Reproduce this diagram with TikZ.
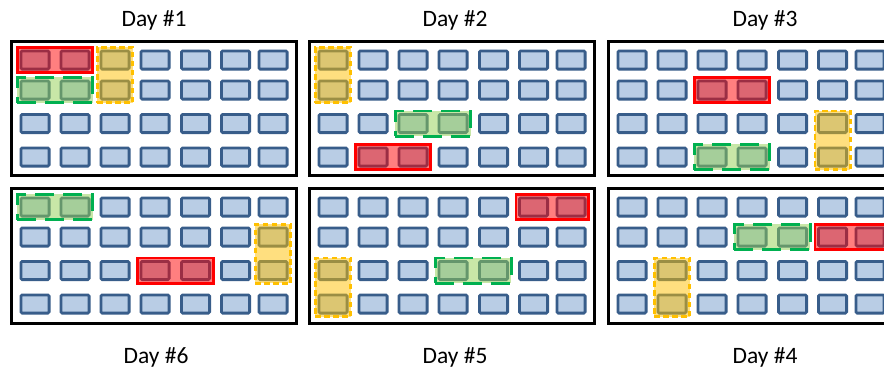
\documentclass[tikz,border=0pt]{standalone}
\usepackage{fontspec}
\setmainfont{Carlito}
\usetikzlibrary{fit}
\definecolor{cellfill}{HTML}{B9CDE5}
\definecolor{cellline}{HTML}{385D8A}
\definecolor{hlred}{HTML}{FF0000}
\definecolor{hlgreen}{HTML}{00B050}
\definecolor{hlgreenfill}{HTML}{92D050}
\definecolor{hlyellow}{HTML}{FFC000}
\tikzset{
 cell/.style={draw=cellline, fill=cellfill, line width=2.8pt, rounded corners=1.2pt, minimum width=28.2pt, minimum height=18.2pt, inner sep=0pt, outer sep=0pt},
 panel/.style={draw=black, line width=2.8pt},
 hl/.style={inner sep=3.6pt, outer sep=0pt, line width=2.6pt, fill opacity=0.5},
 hlr/.style={hl, draw=hlred, fill=hlred},
 hlg/.style={hl, draw=hlgreen, fill=hlgreenfill, dash pattern=on 19pt off 9pt},
 hly/.style={hl, draw=hlyellow, fill=hlyellow, dash pattern=on 5.5pt off 3.5pt},
 daylabel/.style={font=\fontsize{23.5}{28}\selectfont, anchor=base, inner sep=0pt},
}
\begin{document}
\begin{tikzpicture}[x=1pt,y=-1pt]
\useasboundingbox (0,0) rectangle (884,370);
\fill[white] (0,0) rectangle (884,370);
\foreach \pn/\px/\py/\ph in {a/10/40/137, b/308/40/137, c/607/40/137, d/10/187/138, e/308/187/138, f/607/187/138} {
  \draw[panel] (\px+1.4,\py+1.4) rectangle (\px+286.6,\py+\ph-1.4);
  \foreach \r/\cy in {1/20,2/50,3/83.5,4/117} {
    \foreach \c/\cx in {1/25,2/65,3/105,4/145,5/185.5,6/225.5,7/263} {
      \node[cell] (\pn-\r-\c) at (\px+\cx,\py+\cy) {};
    }
  }
}
% Day 1
\node[hlr, fit=(a-1-1)(a-1-2)] (a-red) {};
\node[hlg, fit=(a-2-1)(a-2-2)] (a-green) {};
\node[hly, fit=(a-1-3)(a-2-3)] (a-yellow) {};
% Day 2
\node[hly, fit=(b-1-1)(b-2-1)] (b-yellow) {};
\node[hlg, fit=(b-3-3)(b-3-4)] (b-green) {};
\node[hlr, fit=(b-4-2)(b-4-3)] (b-red) {};
% Day 3
\node[hlr, fit=(c-2-3)(c-2-4)] (c-red) {};
\node[hly, fit=(c-3-6)(c-4-6)] (c-yellow) {};
\node[hlg, fit=(c-4-3)(c-4-4)] (c-green) {};
% Day 6
\node[hlg, fit=(d-1-1)(d-1-2)] (d-green) {};
\node[hly, fit=(d-2-7)(d-3-7)] (d-yellow) {};
\node[hlr, fit=(d-3-4)(d-3-5)] (d-red) {};
% Day 5
\node[hlr, fit=(e-1-6)(e-1-7)] (e-red) {};
\node[hly, fit=(e-3-1)(e-4-1)] (e-yellow) {};
\node[hlg, fit=(e-3-4)(e-3-5)] (e-green) {};
% Day 4
\node[hlg, fit=(f-2-4)(f-2-5)] (f-green) {};
\node[hlr, fit=(f-2-6)(f-2-7)] (f-red) {};
\node[hly, fit=(f-3-2)(f-4-2)] (f-yellow) {};
% labels
\node[daylabel] (l1) at (154,26) {Day \#1};
\node[daylabel] (l2) at (455,26) {Day \#2};
\node[daylabel] (l3) at (765,26) {Day \#3};
\node[daylabel] (l6) at (156,363) {Day \#6};
\node[daylabel] (l5) at (455,363) {Day \#5};
\node[daylabel] (l4) at (765,363) {Day \#4};
\end{tikzpicture}
\end{document}
